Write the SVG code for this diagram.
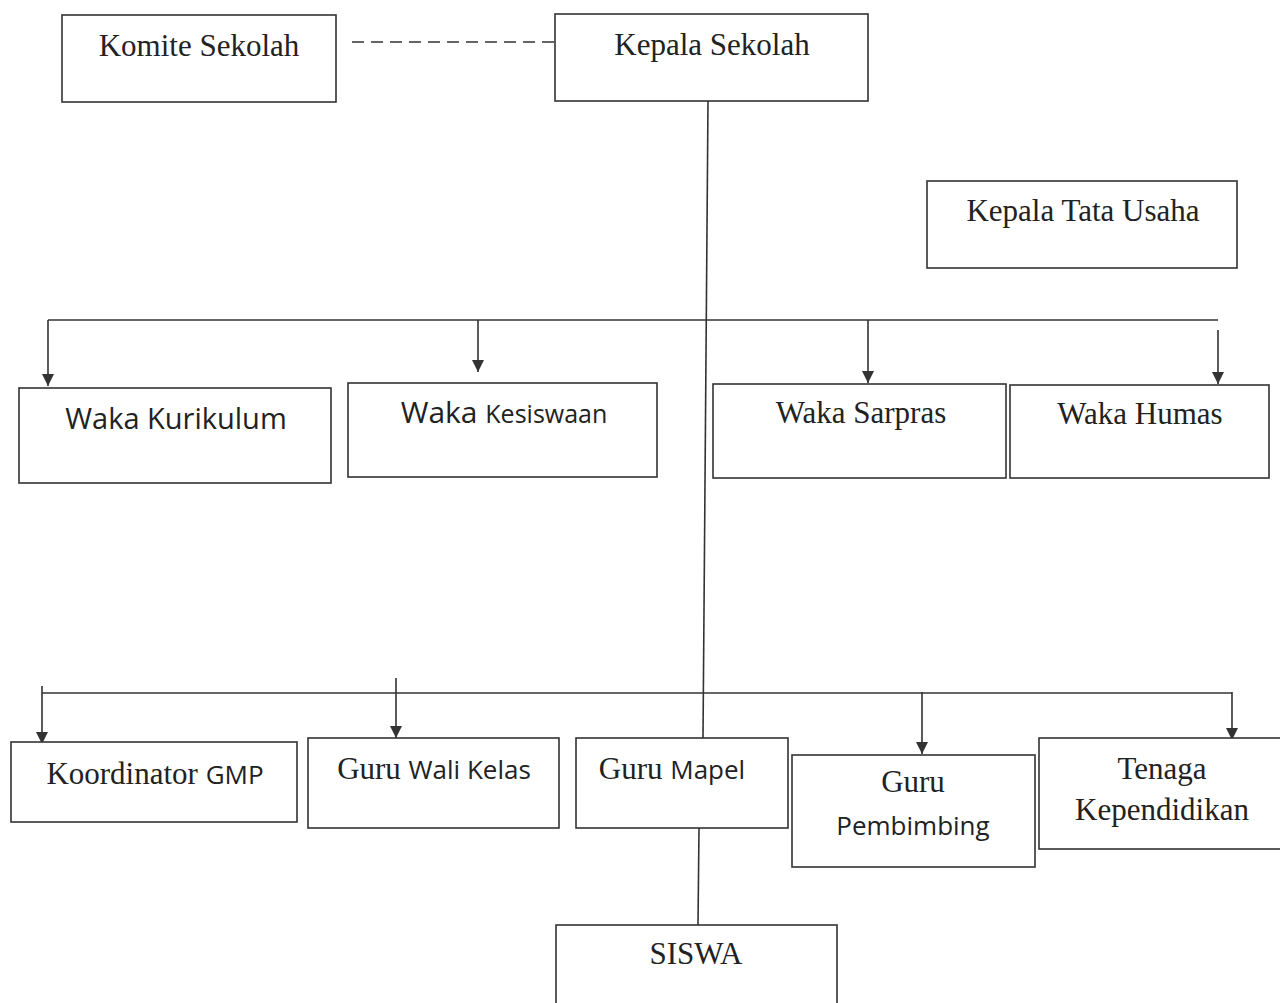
<svg xmlns="http://www.w3.org/2000/svg" width="1280" height="1003" viewBox="0 0 1280 1003">
<style>
.box{fill:#fff;stroke:#333;stroke-width:1.6}
.ln{fill:none;stroke:#333;stroke-width:1.6}
.ser{font-family:"Liberation Serif","Times New Roman",serif;font-size:31px;fill:#222}
.sans{font-family:"Open Sans","Noto Sans",sans-serif;fill:#222}
</style>
<defs>
<marker id="ar" viewBox="0 0 10 10" refX="10" refY="5" markerWidth="16" markerHeight="12" markerUnits="userSpaceOnUse" orient="auto">
<path d="M0,0 L10,5 L0,10 z" fill="#333"/>
</marker>
</defs>
<rect width="1280" height="1003" fill="#fff"/>
<g id="connectors">
<path class="ln" d="M352,42 H555" stroke-dasharray="12,7"/>
<path class="ln" d="M708,101 L703,738"/>
<path class="ln" d="M699,828 L698,925"/>
<path class="ln" d="M48,320 H1218"/>
<path class="ln" d="M48,320 V386" marker-end="url(#ar)"/>
<path class="ln" d="M478,320 V372" marker-end="url(#ar)"/>
<path class="ln" d="M868,320 V383" marker-end="url(#ar)"/>
<path class="ln" d="M1218,330 V384" marker-end="url(#ar)"/>
<path class="ln" d="M42,693 H1232"/>
<path class="ln" d="M42,686 V744" marker-end="url(#ar)"/>
<path class="ln" d="M396,678 V738" marker-end="url(#ar)"/>
<path class="ln" d="M922,692 V754" marker-end="url(#ar)"/>
<path class="ln" d="M1232,692 V740" marker-end="url(#ar)"/>
</g>
<g id="komite"><rect class="box" x="62" y="15" width="274" height="87"/><text class="ser" x="199" y="56" text-anchor="middle">Komite Sekolah</text></g>
<g id="kepala"><rect class="box" x="555" y="14" width="313" height="87"/><text class="ser" x="712" y="55" text-anchor="middle">Kepala Sekolah</text></g>
<g id="tu"><rect class="box" x="927" y="181" width="310" height="87"/><text class="ser" x="1083" y="221" text-anchor="middle">Kepala Tata Usaha</text></g>
<g id="kurikulum"><rect class="box" x="19" y="388" width="312" height="95"/><text class="sans" x="176" y="429" font-size="29" text-anchor="middle">Waka Kurikulum</text></g>
<g id="kesiswaan"><rect class="box" x="348" y="383" width="309" height="94"/><text class="sans" x="504" y="423" font-size="30" text-anchor="middle">Waka <tspan font-size="25">Kesiswaan</tspan></text></g>
<g id="sarpras"><rect class="box" x="713" y="384" width="293" height="94"/><text class="ser" x="861" y="423" text-anchor="middle">Waka Sarpras</text></g>
<g id="humas"><rect class="box" x="1010" y="385" width="259" height="93"/><text class="ser" x="1140" y="424" text-anchor="middle">Waka Humas</text></g>
<g id="koordinator"><rect class="box" x="11" y="742" width="286" height="80"/><text class="ser" x="155" y="784" font-size="33" text-anchor="middle">Koordinator <tspan class="sans" font-size="26">GMP</tspan></text></g>
<g id="wali"><rect class="box" x="308" y="738" width="251" height="90"/><text class="ser" x="434" y="779" text-anchor="middle">Guru <tspan class="sans" font-size="26">Wali Kelas</tspan></text></g>
<g id="mapel"><rect class="box" x="576" y="738" width="212" height="90"/><text class="ser" x="672" y="779" text-anchor="middle">Guru <tspan class="sans" font-size="26">Mapel</tspan></text></g>
<g id="pembimbing"><rect class="box" x="792" y="755" width="243" height="112"/><text class="ser" x="913" y="792" text-anchor="middle">Guru</text><text class="sans" x="913" y="835" font-size="26" text-anchor="middle">Pembimbing</text></g>
<g id="tenaga"><rect class="box" x="1039" y="738" width="245" height="111"/><text class="ser" x="1162" y="779" text-anchor="middle">Tenaga</text><text class="ser" x="1162" y="820" text-anchor="middle">Kependidikan</text></g>
<g id="siswa"><rect class="box" x="556" y="925" width="281" height="90"/><text class="ser" x="696" y="964" text-anchor="middle">SISWA</text></g>
</svg>
